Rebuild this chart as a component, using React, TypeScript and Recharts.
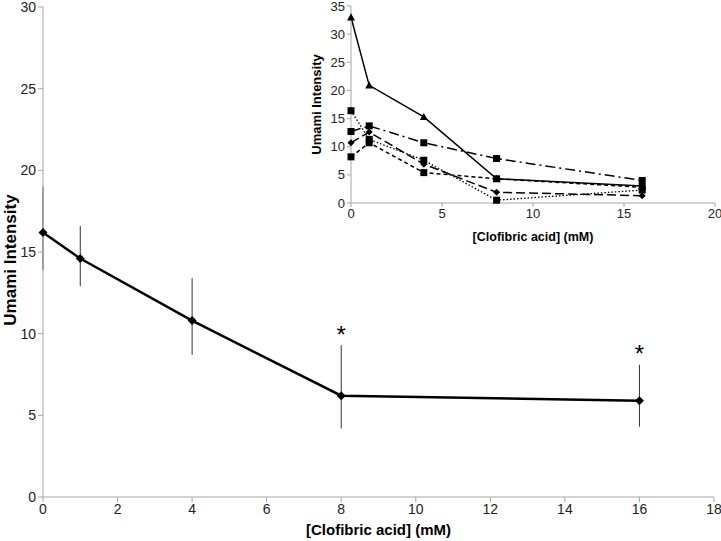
import React from 'react';
import { ComposedChart, Line, Scatter, XAxis, YAxis, ErrorBar, Label } from 'recharts';

// ---- main chart data ----
const concentrations = [0, 1, 4, 8, 16];
const meanIntensity = [16.2, 14.6, 10.8, 6.2, 5.9];
const errorUpper = [19.0, 16.6, 13.4, 9.3, 8.1];
const errorLower = [13.9, 12.9, 8.7, 4.2, 4.3];
const significantX = [8, 16];
const significantY = [10.3, 9.1];
const mainXTicks = [0, 2, 4, 6, 8, 10, 12, 14, 16, 18];
const mainYTicks = [0, 5, 10, 15, 20, 25, 30];

// ---- inset data (individual subjects) ----
const insetTriangleSolid = [33.0, 20.9, 15.3, 4.3, 3.0];
const insetSquareDashDot = [12.7, 13.7, 10.7, 7.9, 4.0];
const insetSquareDotted = [16.4, 11.3, 7.6, 0.5, 2.3];
const insetSquareDashed = [8.2, 10.7, 5.4, 4.3, 2.8];
const insetDiamondLongDash = [10.7, 12.6, 6.9, 1.9, 1.3];
const insetXTicks = [0, 5, 10, 15, 20];
const insetYTicks = [0, 5, 10, 15, 20, 25, 30, 35];

const mainData = concentrations.map((x, i) => ({
  x,
  y: meanIntensity[i],
  err: [meanIntensity[i] - errorLower[i], errorUpper[i] - meanIntensity[i]],
}));
const sigData = significantX.map((x, i) => ({ x, y: significantY[i] }));
const insetData = concentrations.map((x, i) => ({
  x,
  a: insetTriangleSolid[i],
  b: insetSquareDashDot[i],
  c: insetSquareDotted[i],
  d: insetSquareDashed[i],
  e: insetDiamondLongDash[i],
}));

const AXIS = '#a6a6a6';
const FONT = "'Liberation Sans', Arial, sans-serif";

const Diamond = (s: number) => (p: any) => {
  const { cx, cy, index } = p;
  if (cx == null || cy == null) return <g key={`dm${index}`} />;
  return (
    <polygon
      key={`dm${index}`}
      points={`${cx},${cy - s} ${cx + s},${cy} ${cx},${cy + s} ${cx - s},${cy}`}
      fill="#000"
    />
  );
};
const Square = (s: number) => (p: any) => {
  const { cx, cy, index } = p;
  if (cx == null || cy == null) return <g key={`sq${index}`} />;
  return <rect key={`sq${index}`} x={cx - s} y={cy - s} width={2 * s} height={2 * s} fill="#000" />;
};
const Triangle = (s: number) => (p: any) => {
  const { cx, cy, index } = p;
  if (cx == null || cy == null) return <g key={`tr${index}`} />;
  return (
    <polygon
      key={`tr${index}`}
      points={`${cx},${cy - s} ${cx + s},${cy + s * 0.8} ${cx - s},${cy + s * 0.8}`}
      fill="#000"
    />
  );
};

const Asterisk = (p: any) => (
  <text x={p.cx} y={p.cy + 14} textAnchor="middle" fontSize={24} fontFamily={FONT} fill="#000">
    *
  </text>
);

const RotTitle = (dx: number, dy: number, size: number, text: string) => (props: any) => {
  const vb = props.viewBox;
  const x = vb.x + dx;
  const y = vb.y + vb.height / 2 + dy;
  return (
    <text
      transform={`translate(${x},${y}) rotate(-90)`}
      textAnchor="middle"
      fontFamily={FONT}
      fontWeight="bold"
      fontSize={size}
      fill="#000"
    >
      {text}
    </text>
  );
};

export default function App() {
  return (
    <div style={{ position: 'relative', width: 721, height: 541, background: '#fff' }}>
      <style>{`body{margin:0}`}</style>
      <div style={{ position: 'absolute', left: 0, top: 0 }}>
        <ComposedChart width={721} height={541} data={mainData} margin={{ top: 7, right: 7, bottom: 0, left: 0 }}>
          <XAxis
            dataKey="x"
            type="number"
            domain={[0, 18]}
            ticks={mainXTicks}
            height={44}
            stroke={AXIS}
            tickSize={5}
            tick={{ fill: '#222', fontSize: 14, fontFamily: FONT }}
            interval={0}
          >
            <Label
              value="[Clofibric acid] (mM)"
              position="insideBottom"
              offset={6}
              style={{ fontFamily: FONT, fontWeight: 'bold', fontSize: 15, fill: '#000' }}
            />
          </XAxis>
          <YAxis
            type="number"
            domain={[0, 30]}
            ticks={mainYTicks}
            width={43}
            stroke={AXIS}
            tickSize={5}
            tick={{ fill: '#222', fontSize: 14, fontFamily: FONT }}
            interval={0}
          >
            <Label content={RotTitle(16, 8, 17, 'Umami Intensity')} />
          </YAxis>
          <Line
            dataKey="y"
            stroke="#000"
            strokeWidth={2.5}
            dot={Diamond(4.5)}
            isAnimationActive={false}
          >
            <ErrorBar dataKey="err" width={0} stroke="#333" strokeWidth={1} direction="y" />
          </Line>
          <Scatter data={sigData} dataKey="y" shape={Asterisk} isAnimationActive={false} />
        </ComposedChart>
      </div>
      <div style={{ position: 'absolute', left: 300, top: 0 }}>
        <ComposedChart width={421} height={245} data={insetData} margin={{ top: 6, right: 6, bottom: 0, left: 0 }}>
          <XAxis
            dataKey="x"
            type="number"
            domain={[0, 20]}
            ticks={insetXTicks}
            height={42}
            stroke={AXIS}
            tickSize={4}
            tick={{ fill: '#222', fontSize: 13, fontFamily: FONT }}
            interval={0}
          >
            <Label
              value="[Clofibric acid] (mM)"
              position="insideBottom"
              offset={4}
              style={{ fontFamily: FONT, fontWeight: 'bold', fontSize: 12.5, fill: '#000' }}
            />
          </XAxis>
          <YAxis
            type="number"
            domain={[0, 35]}
            ticks={insetYTicks}
            width={51}
            stroke={AXIS}
            tickSize={4}
            tick={{ fill: '#222', fontSize: 13, fontFamily: FONT }}
            interval={0}
          >
            <Label content={RotTitle(21, 0, 13, 'Umami Intensity')} />
          </YAxis>
          <Line dataKey="a" stroke="#000" strokeWidth={1.5} dot={Triangle(4)} isAnimationActive={false} />
          <Line dataKey="b" stroke="#000" strokeWidth={1.5} strokeDasharray="10 4 2 4" dot={Square(3.5)} isAnimationActive={false} />
          <Line dataKey="c" stroke="#000" strokeWidth={1.3} strokeDasharray="1.5 2" dot={Square(3.5)} isAnimationActive={false} />
          <Line dataKey="d" stroke="#000" strokeWidth={1.5} strokeDasharray="4 3" dot={Square(3.5)} isAnimationActive={false} />
          <Line dataKey="e" stroke="#000" strokeWidth={1.5} strokeDasharray="9 4" dot={Diamond(3.5)} isAnimationActive={false} />
        </ComposedChart>
      </div>
    </div>
  );
}
